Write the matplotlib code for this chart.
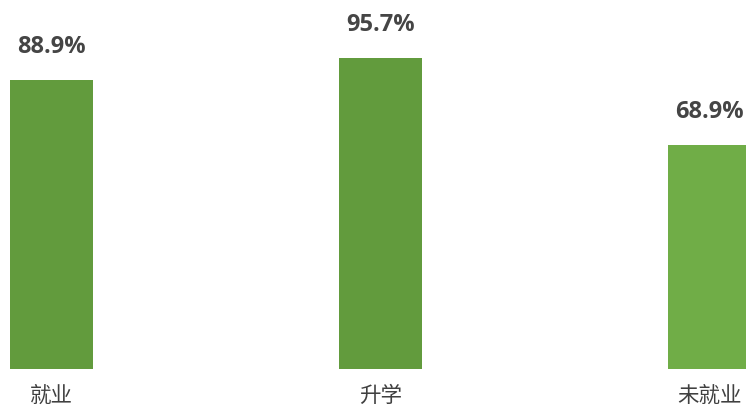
import matplotlib
matplotlib.use("Agg")
import matplotlib.pyplot as plt

# 数据
categories = ["就业", "升学", "未就业"]
values = [88.9, 95.7, 68.9]
value_labels = ["88.9%", "95.7%", "68.9%"]
bar_colors = ["#629B3D", "#629B3D", "#70AD47"]

plt.rcParams['font.family'] = ['Noto Sans CJK SC', 'DejaVu Sans']

fig = plt.figure(figsize=(7.46, 4.07), dpi=100)
ax = fig.add_axes([0, 38 / 407, 1, 369 / 407])

x = list(range(len(categories)))
ax.bar(x, values, width=0.252, color=bar_colors)

# 数值标签
for xi, v, lab in zip(x, values, value_labels):
    ax.annotate(lab, (xi, v), xytext=(0, 33), textcoords="offset pixels",
                ha="center", va="center", fontsize=17, fontweight="bold",
                color="#454545", family=['Open Sans', 'Noto Sans CJK SC'])

# 类别标签
for xi, c in zip(x, categories):
    ax.annotate(c, (xi, 0), xytext=(0, -27), textcoords="offset pixels",
                ha="center", va="center", fontsize=15.5, color="#404040",
                annotation_clip=False)

ax.set_xlim(-0.1565, 2.111)
ax.set_ylim(0, 113.5)
ax.axis("off")

fig.savefig("out.png", dpi=100)
